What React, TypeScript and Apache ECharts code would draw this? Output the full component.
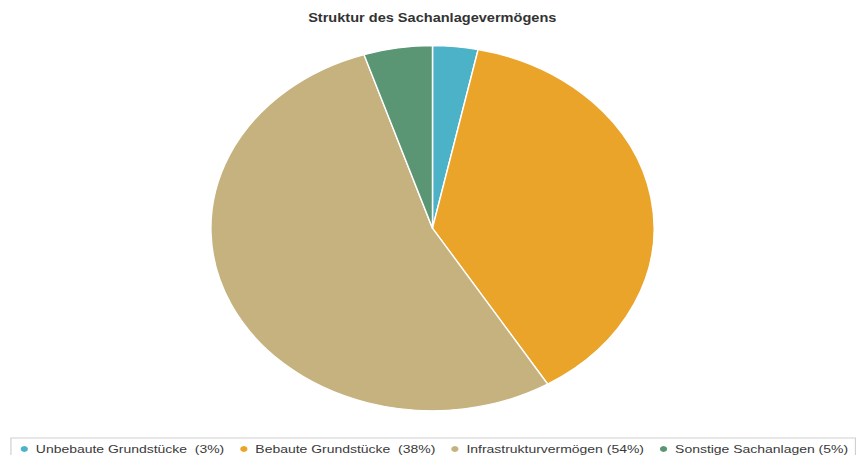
import React, { useEffect, useRef } from "react";
import * as echarts from "echarts";

const titleText = "Struktur des Sachanlagevermögens";
const categories = [
  "Unbebaute Grundstücke  (3%)",
  "Bebaute Grundstücke  (38%)",
  "Infrastrukturvermögen (54%)",
  "Sonstige Sachanlagen (5%)",
];
const values = [3.3, 38.0, 53.7, 5.0];
const colors = ["#4cb2c8", "#eaa42a", "#c5b27f", "#5a9574"];

const FULL_W = 856;
const FULL_H = 455;
const INNER_W = 705;
const FONT = "'Liberation Sans', Arial, Helvetica, sans-serif";

export default function App() {
  const ref = useRef<HTMLDivElement | null>(null);

  useEffect(() => {
    if (!ref.current) return;
    const chart = echarts.init(ref.current, undefined, { renderer: "svg" });
    chart.setOption({
      animation: false,
      title: {
        text: titleText,
        left: 356,
        textAlign: "center",
        top: 12,
        padding: 0,
        textStyle: {
          fontFamily: FONT,
          fontSize: 12,
          fontWeight: "bold",
          color: "#333333",
        },
      },
      legend: {
        data: categories,
        left: 9,
        top: 438,
        orient: "horizontal",
        icon: "circle",
        itemWidth: 9,
        itemHeight: 8,
        itemGap: 11,
        padding: [5, 6, 5, 6],
        borderColor: "#d0d0d0",
        borderWidth: 1,
        borderRadius: 0,
        selectedMode: false,
        textStyle: {
          fontFamily: FONT,
          fontSize: 11.5,
          color: "#3a3a3a",
        },
      },
      series: [
        {
          type: "pie",
          center: [356.2, 228.2],
          radius: 182.5,
          startAngle: 90,
          clockwise: true,
          label: { show: false },
          labelLine: { show: false },
          emphasis: { disabled: true },
          itemStyle: { borderColor: "#ffffff", borderWidth: 1.2 },
          data: categories.map((name, i) => ({
            name,
            value: values[i],
            itemStyle: { color: colors[i] },
          })),
        },
      ],
    });
    return () => chart.dispose();
  }, []);

  return (
    <div
      style={{
        position: "fixed",
        left: 0,
        top: 0,
        width: FULL_W,
        height: FULL_H,
        overflow: "hidden",
        background: "#ffffff",
      }}
    >
      <div
        ref={ref}
        style={{
          width: INNER_W,
          height: FULL_H,
          transform: `scaleX(${FULL_W / INNER_W})`,
          transformOrigin: "0 0",
        }}
      />
    </div>
  );
}
